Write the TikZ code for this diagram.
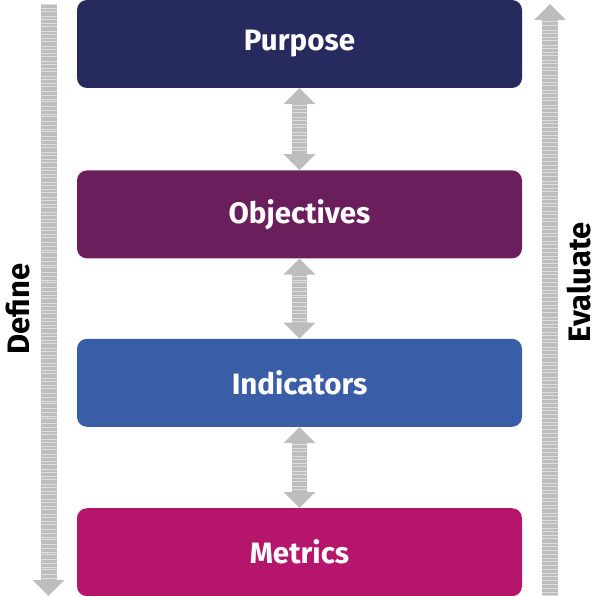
\documentclass[tikz,border=0pt]{standalone}
\usepackage{fontspec}
\setmainfont{Fira Sans}
\usetikzlibrary{arrows.meta,positioning}
\definecolor{purposenavy}{HTML}{272A5E}
\definecolor{objpurple}{HTML}{6A1F5C}
\definecolor{indblue}{HTML}{3A5DA8}
\definecolor{metmagenta}{HTML}{B5166C}
\definecolor{shaft}{HTML}{BDBDBD}
\definecolor{stripe}{HTML}{DEDEDE}

\begin{document}
\begin{tikzpicture}[x=1pt, y=1pt,
  level/.style={rounded corners=10pt, minimum width=445pt, minimum height=88pt, inner sep=0pt, text=white, font=\fontsize{29.5}{32}\selectfont\bfseries},
  flow/.style={draw=shaft, line width=16pt, -{Triangle[width=31pt,length=16pt]}},
  link/.style={draw=shaft, line width=15pt, {Triangle[width=31pt,length=16pt]}-{Triangle[width=31pt,length=16pt]}},
  stripes/.style={draw=stripe, line width=15pt, dash pattern=on 0.7pt off 3.3pt on 0.5pt off 2.2pt on 1pt off 4pt on 0.6pt off 2.8pt},
  side/.style={rotate=90, font=\fontsize{31}{34}\selectfont\bfseries}
]
\useasboundingbox (0,0) rectangle (600,-596);
\node[level, fill=purposenavy] (purpose) at (299.5,-44) {Purpose};
\node[level, fill=objpurple, below=82pt of purpose] (objectives) {Objectives};
\node[level, fill=indblue, below=80pt of objectives] (indicators) {Indicators};
\node[level, fill=metmagenta, below=81pt of indicators] (metrics) {Metrics};

% links between levels
\draw[link] (purpose) -- (objectives);
\draw[link] (objectives) -- (indicators);
\draw[link] (indicators) -- (metrics);
\draw[stripes, shorten <=17pt, shorten >=17pt] (purpose) -- (objectives);
\draw[stripes, shorten <=17pt, shorten >=17pt] (objectives) -- (indicators);
\draw[stripes, shorten <=17pt, shorten >=17pt] (indicators) -- (metrics);

% define / evaluate arrows
\coordinate (define start) at (48.5,-4);
\coordinate (define end) at (48.5,-596);
\coordinate (evaluate start) at (550,-596);
\coordinate (evaluate end) at (550,-4);
\draw[flow] (define start) -- (define end);
\draw[flow] (evaluate start) -- (evaluate end);
\draw[stripes, line width=16pt, shorten >=16pt] (define start) -- (define end);
\draw[stripes, line width=16pt, shorten >=16pt] (evaluate start) -- (evaluate end);
\node[side] (define) at (18,-309) {Define};
\node[side] (evaluate) at (579,-282) {Evaluate};
\end{tikzpicture}
\end{document}
